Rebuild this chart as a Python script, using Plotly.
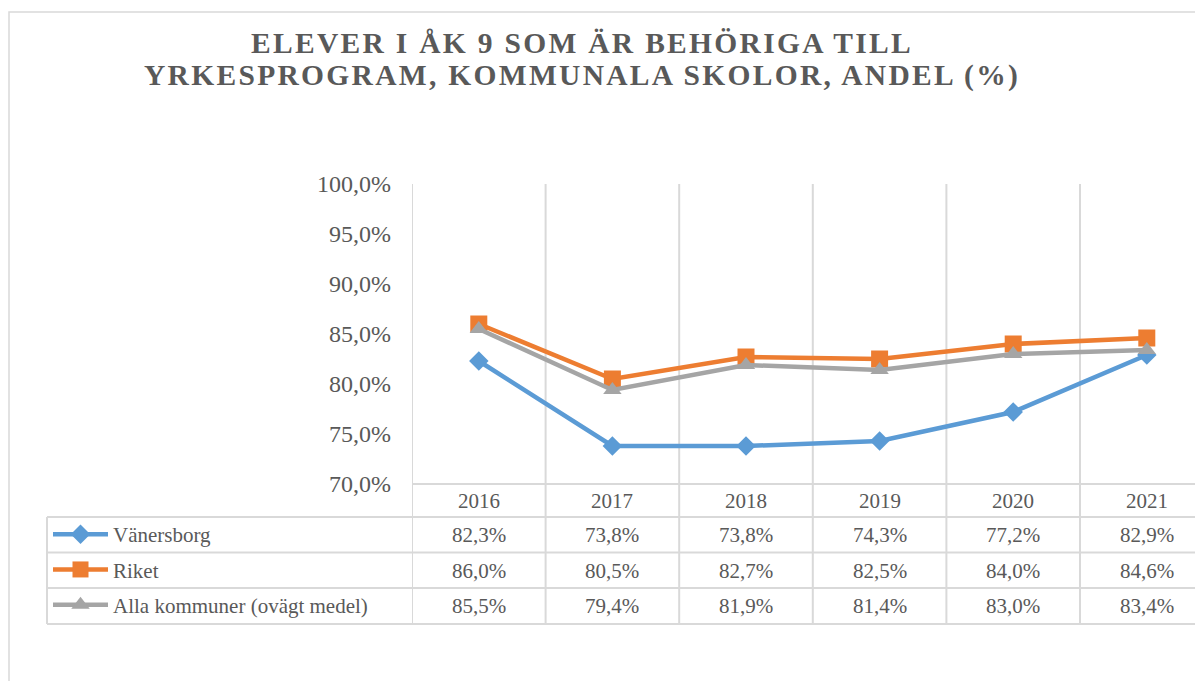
import plotly.graph_objects as go

years = ["2016", "2017", "2018", "2019", "2020", "2021"]
series_names = ["Vänersborg", "Riket", "Alla kommuner (ovägt medel)"]
vanersborg = [82.3, 73.8, 73.8, 74.3, 77.2, 82.9]
riket = [86.0, 80.5, 82.7, 82.5, 84.0, 84.6]
alla = [85.5, 79.4, 81.9, 81.4, 83.0, 83.4]
y_ticks = [70, 75, 80, 85, 90, 95, 100]
title_lines = ["ELEVER I ÅK 9 SOM ÄR BEHÖRIGA TILL",
               "YRKESPROGRAM, KOMMUNALA SKOLOR, ANDEL (%)"]

colors = ["#5B9BD5", "#ED7D31", "#A5A5A5"]
symbols = ["diamond", "square", "triangle-up"]
msizes = [15, 17, 16]
values = [vanersborg, riket, alla]

FONT = "Liberation Serif, Times New Roman, serif"
TXT = "#595959"
GRID = "#D9D9D9"

# the page body has an 8px default margin; positions below are given in page pixels
OFF = 8
W, H = 1203 - OFF, 689 - 2 * OFF
PLOT_L, PLOT_T, PLOT_B = 412, 184, 484
L, T = PLOT_L - OFF, PLOT_T - OFF
B = H - (PLOT_B - OFF)
R = 0
PW, PH = W - L - R, H - T - B


def px_x(px):
    return (px - OFF - L) / PW


def px_y(py):
    return (H - B - (py - OFF)) / PH


def fmt(v):
    return f"{v:.1f}%".replace(".", ",")


fig = go.Figure()
for name, vals, c, s, ms in zip(series_names, values, colors, symbols, msizes):
    fig.add_trace(go.Scatter(
        x=years, y=vals, name=name, mode="lines+markers",
        line=dict(color=c, width=4.5),
        marker=dict(symbol=s, size=ms, color=c, line=dict(width=0)),
        legendgroup=name,
        cliponaxis=False,
    ))

shapes = []
# outer chart border
shapes.append(dict(type="rect", xref="paper", yref="paper",
                   x0=px_x(9), x1=px_x(1260),
                   y0=px_y(760), y1=px_y(12),
                   line=dict(color=GRID, width=1.5), layer="below"))
# vertical grid / table column lines
for i in range(len(years) + 1):
    shapes.append(dict(type="line", xref="x", yref="paper",
                       x0=i - 0.5, x1=i - 0.5,
                       y0=px_y(624), y1=1,
                       line=dict(color=GRID, width=2), layer="below"))
# horizontal axis line
shapes.append(dict(type="line", xref="paper", yref="paper",
                   x0=0, x1=1.05, y0=0, y1=0,
                   line=dict(color=GRID, width=2), layer="below"))
# table rows
for py in [517, 552.5, 588, 624]:
    shapes.append(dict(type="line", xref="paper", yref="paper",
                       x0=px_x(47), x1=1.05, y0=px_y(py), y1=px_y(py),
                       line=dict(color=GRID, width=2), layer="below"))
# left border of table
shapes.append(dict(type="line", xref="paper", yref="paper",
                   x0=px_x(47), x1=px_x(47),
                   y0=px_y(517), y1=px_y(624),
                   line=dict(color=GRID, width=2), layer="below"))

annotations = []
# title lines
for t, pyc in zip(title_lines, [43, 76]):
    annotations.append(dict(x=px_x(582), xref="paper", y=px_y(pyc), yref="paper",
                            text=f'<span style="letter-spacing:2.3px"><b>{t}</b></span>',
                            showarrow=False, xanchor="center", yanchor="middle",
                            font=dict(family=FONT, size=29.5, color=TXT)))
# header years
for i, yr in enumerate(years):
    annotations.append(dict(x=i, xref="x", y=px_y(501), yref="paper",
                            text=yr, showarrow=False, xanchor="center", yanchor="middle",
                            font=dict(family=FONT, size=21, color=TXT)))
row_centers = [535, 570.5, 606]
for vals, pyc in zip(values, row_centers):
    for i, v in enumerate(vals):
        annotations.append(dict(x=i, xref="x", y=px_y(pyc), yref="paper",
                                text=fmt(v), showarrow=False, xanchor="center", yanchor="middle",
                                font=dict(family=FONT, size=21, color=TXT)))

fig.update_layout(
    width=W, height=H,
    margin=dict(l=L, r=R, t=T, b=B, pad=0),
    paper_bgcolor="white", plot_bgcolor="white",
    xaxis=dict(type="category", range=[-0.5, -0.5 + PW / 133.6],
               showgrid=False, showline=False, zeroline=False,
               showticklabels=False, ticks=""),
    yaxis=dict(range=[70, 100], tickvals=y_ticks, ticktext=[fmt(v) for v in y_ticks],
               showgrid=False, zeroline=False, showline=False, ticks="",
               ticklabelstandoff=20,
               tickfont=dict(family=FONT, size=24, color=TXT)),
    showlegend=True,
    legend=dict(x=px_x(48), xanchor="left", y=px_y(514), yanchor="top",
                orientation="v", traceorder="grouped", tracegroupgap=5,
                itemwidth=55, bgcolor="rgba(0,0,0,0)",
                font=dict(family=FONT, size=21, color=TXT)),
    shapes=shapes,
    annotations=annotations,
)

fig.write_html("out.html")
